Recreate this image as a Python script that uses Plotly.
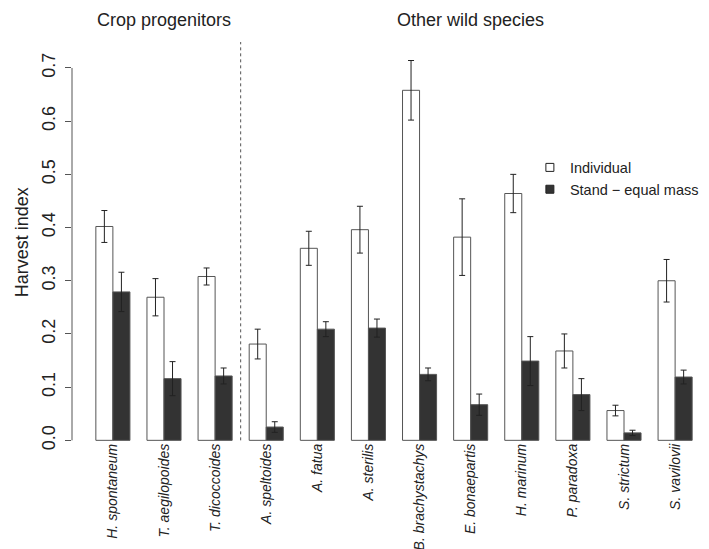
import plotly.graph_objects as go

species = ["H. spontaneum", "T. aegilopoides", "T. dicoccoides", "A. speltoides",
           "A. fatua", "A. sterilis", "B. brachystachys", "E. bonaepartis",
           "H. marinum", "P. paradoxa", "S. strictum", "S. vavilovii"]
individual = [0.402, 0.269, 0.308, 0.181, 0.361, 0.396, 0.658, 0.382, 0.464, 0.168, 0.056, 0.300]
individual_err = [0.030, 0.035, 0.016, 0.028, 0.032, 0.044, 0.056, 0.072, 0.036, 0.032, 0.010, 0.040]
stand = [0.279, 0.116, 0.121, 0.025, 0.209, 0.211, 0.124, 0.067, 0.149, 0.086, 0.014, 0.119]
stand_err = [0.037, 0.032, 0.015, 0.010, 0.014, 0.017, 0.012, 0.020, 0.046, 0.030, 0.005, 0.013]
yticks = [0.0, 0.1, 0.2, 0.3, 0.4, 0.5, 0.6, 0.7]
ytick_labels = ["0.0", "0.1", "0.2", "0.3", "0.4", "0.5", "0.6", "0.7"]
group_labels = ["Crop progenitors", "Other wild species"]
legend_labels = ["Individual", "Stand \u2212 equal mass"]

FONT = "Liberation Sans, Arial, Helvetica, sans-serif"
TXT = "#222222"
EDGE = "#555555"
DARK = "#333333"

n = len(species)
x_ind = [1.5 + 3 * i for i in range(n)]
x_std = [2.5 + 3 * i for i in range(n)]
x_mid = [2 + 3 * i for i in range(n)]

fig = go.Figure()
fig.add_trace(go.Bar(
    x=x_ind, y=individual, width=1, showlegend=False,
    marker=dict(color="white", line=dict(color=EDGE, width=1)),
    error_y=dict(type="data", array=individual_err, color=TXT, thickness=1, width=3),
))
fig.add_trace(go.Bar(
    x=x_std, y=stand, width=1, showlegend=False,
    marker=dict(color=DARK, line=dict(color=EDGE, width=1)),
    error_y=dict(type="data", array=stand_err, color=TXT, thickness=1, width=3),
))
# legend entries
fig.add_trace(go.Scatter(x=[None], y=[None], mode="markers", name=legend_labels[0],
                         marker=dict(symbol="square", size=8, color="white",
                                     line=dict(color=TXT, width=1))))
fig.add_trace(go.Scatter(x=[None], y=[None], mode="markers", name=legend_labels[1],
                         marker=dict(symbol="square", size=8, color=DARK,
                                     line=dict(color=TXT, width=1))))

W, H = 709, 549
ml, mr, mt, mb = 64, 1, 34, 114

fig.update_layout(
    width=W, height=H,
    margin=dict(l=ml, r=mr, t=mt, b=mb, pad=0),
    plot_bgcolor="white", paper_bgcolor="white",
    barmode="overlay",
    font=dict(family=FONT, color=TXT, size=18),
    showlegend=True,
    legend=dict(x=0.711, y=0.727, xanchor="left", yanchor="top",
                font=dict(size=14.5, family=FONT, color=TXT),
                bgcolor="rgba(0,0,0,0)", borderwidth=0, itemwidth=30,
                tracegroupgap=0),
    xaxis=dict(range=[-0.4, 37.4], tickvals=x_mid,
               ticktext=["<i>" + s + "</i>" for s in species],
               tickangle=-90, tickfont=dict(size=14, family=FONT, color=TXT),
               showline=False, showgrid=False, zeroline=False, ticks="",
               ticklabelstandoff=-3),
    yaxis=dict(range=[-0.005, 0.7488], tickvals=yticks, ticktext=ytick_labels,
               tickangle=-90, tickfont=dict(size=18, family=FONT, color=TXT),
               showline=False, showgrid=False, zeroline=False,
               ticks="outside", ticklen=6, tickwidth=1, tickcolor=EDGE,
               ticklabelstandoff=3),
    shapes=[
        dict(type="line", xref="paper", x0=0, x1=0, yref="y", y0=0, y1=0.7,
             line=dict(color=EDGE, width=1)),
        dict(type="line", xref="x", x0=9.5, x1=9.5, yref="y", y0=0, y1=0.7488,
             line=dict(color=EDGE, width=1, dash="3px,3px")),
    ],
    annotations=[
        dict(text="Harvest index", xref="paper", yref="paper", x=-0.078, y=0.5,
             xanchor="center", yanchor="middle", textangle=-90, showarrow=False,
             font=dict(size=18, family=FONT, color=TXT)),
        dict(text=group_labels[0], xref="x", yref="paper", x=5, y=1.055,
             xanchor="center", yanchor="middle", showarrow=False,
             font=dict(size=18, family=FONT, color=TXT)),
        dict(text=group_labels[1], xref="x", yref="paper", x=23, y=1.055,
             xanchor="center", yanchor="middle", showarrow=False,
             font=dict(size=18, family=FONT, color=TXT)),
    ],
)

fig.write_html("out.html")
